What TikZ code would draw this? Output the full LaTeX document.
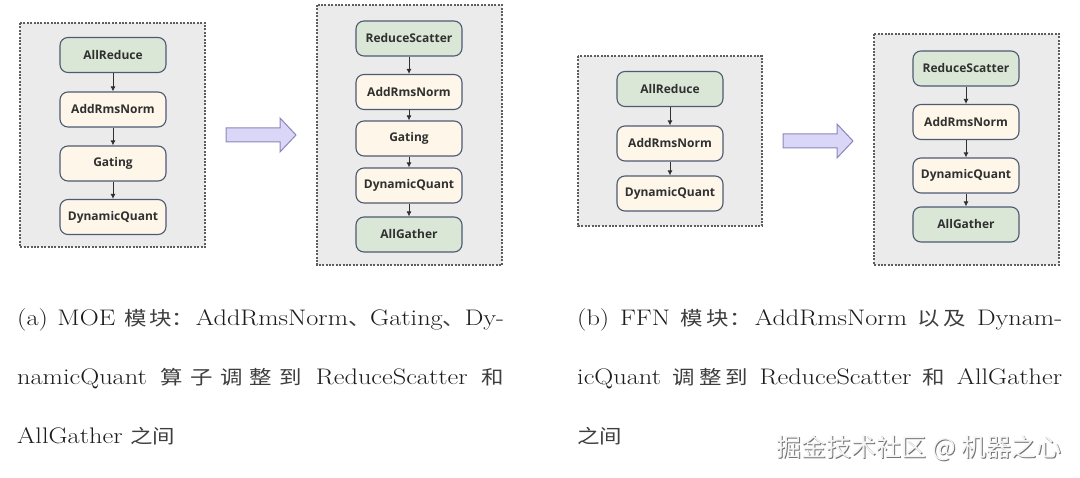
\documentclass[tikz,border=0pt]{standalone}
\usepackage{fontspec}
\usepackage{graphicx}
\newfontfamily\cjk{Noto Sans CJK SC}
\newfontfamily\opfont{Open Sans}
\usetikzlibrary{arrows.meta,positioning}
\definecolor{panelgray}{HTML}{EBEBEB}
\definecolor{paneledge}{HTML}{5E5E5E}
\definecolor{commgreen}{HTML}{DAE7D7}
\definecolor{opcream}{HTML}{FDF6E9}
\definecolor{opedge}{HTML}{4E5A72}
\definecolor{optext}{HTML}{303030}
\definecolor{arrowfill}{HTML}{DAD6F7}
\definecolor{arrowedge}{HTML}{8C86BA}
\definecolor{captext}{HTML}{1C1C1C}
\newcommand{\cjkgap}{\hskip 0pt plus 4pt\relax}
\newcommand{\zh}[1]{{\cjk\fontsize{19.2}{27}\selectfont\color{captext!85}#1}}
\newcommand{\zhdun}{\zh{\makebox[0.9em][l]{、}}\cjkgap}
\newcommand{\capjust}[2]{\scalebox{1.17}[1]{\makebox[\dimexpr #1*100/117\relax][s]{#2}}}
\newcommand{\capwide}[1]{\scalebox{1.17}[1]{#1}}

\begin{document}
\begin{tikzpicture}[x=1pt,y=-1pt,
	panel/.style={draw=paneledge,fill=panelgray,line width=1.1pt,dash pattern=on 2pt off 1.4pt},
	op/.style={draw=opedge,line width=1.1pt,rounded corners=8pt,minimum width=106pt,minimum height=35pt,inner sep=0pt,
		font=\opfont\bfseries\fontsize{12}{15}\selectfont,text=optext},
	comm/.style={op,fill=commgreen},
	calc/.style={op,fill=opcream},
	flow/.style={-{Latex[length=5pt,width=5pt]},line width=0.9pt,draw=optext},
	bigarrow/.style={draw=arrowedge,fill=arrowfill,line width=1pt,line join=miter},
	capline/.style={anchor=base west,inner sep=0pt,text=captext,font=\fontsize{22.5}{27}\selectfont}]
	\useasboundingbox (0,0) rectangle (1080,478);
	% (a) MOE
	\draw[panel] (20,23) rectangle (205,247);
	\node[comm] (a11) at (113,55) {AllReduce};
	\node[calc] (a12) at (113,109.5) {AddRmsNorm};
	\node[calc] (a13) at (113,163.5) {Gating};
	\node[calc] (a14) at (113,217) {DynamicQuant};
	\draw[flow] (a11) -- (a12);
	\draw[flow] (a12) -- (a13);
	\draw[flow] (a13) -- (a14);
	\draw[bigarrow] (226,128) -- (280,128) -- (280,118) -- (296,135) -- (280,152) -- (280,142) -- (226,142) -- cycle;
	\draw[panel] (317,5) rectangle (502,265);
	\node[comm] (a21) at (409,38.5) {ReduceScatter};
	\node[calc] (a22) at (409,92) {AddRmsNorm};
	\node[calc] (a23) at (409,138.5) {Gating};
	\node[calc] (a24) at (409,185.5) {DynamicQuant};
	\node[comm] (a25) at (409,234.5) {AllGather};
	\draw[flow] (a21) -- (a22);
	\draw[flow] (a22) -- (a23);
	\draw[flow] (a23) -- (a24);
	\draw[flow] (a24) -- (a25);
	% (b) FFN
	\draw[panel] (578,56) rectangle (762,226);
	\node[comm] (b11) at (670,89) {AllReduce};
	\node[calc] (b12) at (670,143.5) {AddRmsNorm};
	\node[calc] (b13) at (670,193.5) {DynamicQuant};
	\draw[flow] (b11) -- (b12);
	\draw[flow] (b12) -- (b13);
	\draw[bigarrow] (783,134) -- (837,134) -- (837,124) -- (853,141) -- (837,158) -- (837,148) -- (783,148) -- cycle;
	\draw[panel] (874,34) rectangle (1059,265);
	\node[comm] (b21) at (966,68.5) {ReduceScatter};
	\node[calc] (b22) at (966,122) {AddRmsNorm};
	\node[calc] (b23) at (966,175.5) {DynamicQuant};
	\node[comm] (b24) at (966,224.5) {AllGather};
	\draw[flow] (b21) -- (b22);
	\draw[flow] (b22) -- (b23);
	\draw[flow] (b23) -- (b24);
	% captions
	\node[capline] (capa1) at (17,326) {\capjust{487pt}{(a) MOE \zh{模\cjkgap 块：}\cjkgap AddRmsNorm\zhdun Gating\zhdun Dy-}};
	\node[capline] (capa2) at (17,385) {\capjust{487pt}{namicQuant \zh{算\cjkgap 子\cjkgap 调\cjkgap 整\cjkgap 到} ReduceScatter \zh{和}}};
	\node[capline] (capa3) at (17,444) {\capwide{AllGather \zh{之间}}};
	\node[capline] (capb1) at (577,326) {\capjust{485pt}{(b) FFN \zh{模\cjkgap 块：}\cjkgap AddRmsNorm \zh{以\cjkgap 及} Dynam-}};
	\node[capline] (capb2) at (577,385) {\capjust{485pt}{icQuant \zh{调\cjkgap 整\cjkgap 到} ReduceScatter \zh{和} AllGather}};
	\node[capline] (capb3) at (577,444) {\capwide{\zh{之间}}};
	% watermark
	\node[anchor=east,inner sep=0pt,text=black!55,font=\cjk\fontsize{25}{28}\selectfont] (wmshadow) at (1063,449) {掘金技术社区 @ 机器之心};
	\node[anchor=east,inner sep=0pt,text=white!96!black,font=\cjk\fontsize{25}{28}\selectfont] (wm) at (1062,448) {掘金技术社区 @ 机器之心};
\end{tikzpicture}
\end{document}
